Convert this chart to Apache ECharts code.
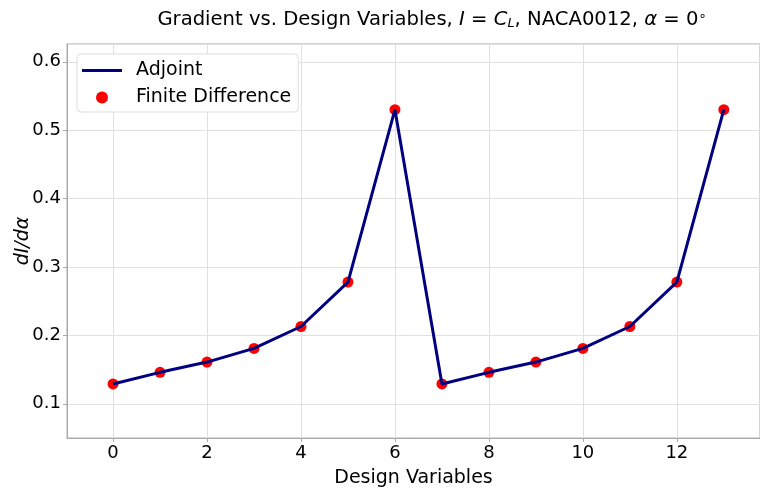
<!DOCTYPE html>
<html>
<head>
<meta charset="utf-8">
<script src="https://cdn.jsdelivr.net/npm/echarts@6/dist/echarts.min.js"></script>
<style>
  html, body { margin: 0; padding: 0; background: #fff; }
  #chart { width: 760px; height: 488px; }
</style>
</head>
<body>
<div id="chart"></div>
<script>
// design variable index and gradient values
const designVars = [0, 1, 2, 3, 4, 5, 6, 7, 8, 9, 10, 11, 12, 13]
const adjoint = [0.129, 0.146, 0.161, 0.181, 0.213, 0.278, 0.530, 0.129, 0.146, 0.161, 0.181, 0.213, 0.278, 0.530]
const finiteDiff = [0.129, 0.146, 0.161, 0.181, 0.213, 0.278, 0.530, 0.129, 0.146, 0.161, 0.181, 0.213, 0.278, 0.530]

const font = 'DejaVu Sans'
const chart = echarts.init(document.getElementById('chart'))

// flat line legend icon, tiny corner points keep the 40x12 box
const lineIcon = 'path://M0,0L0.01,0L0,0.01Z M0,4.5L40,4.5L40,7.5L0,7.5Z M40,12L39.99,12L40,11.99Z'

chart.setOption({
  animation: false,
  textStyle: { fontFamily: font, color: '#000' },
  title: {
    left: 427,
    textAlign: 'center',
    top: 5,
    text: 'Gradient vs. Design Variables, {i|I} = {i|C}{sub|L}, NACA0012, {i|α} = 0{sup|∘}',
    textStyle: {
      fontFamily: font,
      fontWeight: 'normal',
      fontSize: 19.6,
      color: '#000',
      rich: {
        i: { fontFamily: font, fontStyle: 'italic', fontSize: 19.6, color: '#000' },
        sub: { fontFamily: font, fontStyle: 'italic', fontSize: 13, color: '#000', verticalAlign: 'bottom', padding: [7, 0, 0, 0] },
        sup: { fontFamily: font, fontSize: 13, color: '#000', verticalAlign: 'top', padding: [0, 0, 7, 0] },
      },
    },
  },
  grid: {
    left: 67,
    right: 0,
    top: 44,
    bottom: 50,
    outerBoundsMode: 'none',
    containLabel: false,
    show: true,
    borderColor: '#aaa',
    borderWidth: 1,
  },
  legend: {
    orient: 'vertical',
    left: 77,
    top: 54,
    padding: [7, 7, 5, 5],
    itemGap: 8,
    itemWidth: 40,
    itemHeight: 12,
    backgroundColor: '#fff',
    borderColor: '#ddd',
    borderWidth: 1,
    borderRadius: 4,
    textStyle: { fontFamily: font, fontSize: 19, color: '#000', padding: [0, 0, 0, 9] },
    data: [
      { name: 'Adjoint', icon: lineIcon },
      { name: 'Finite Difference', icon: 'circle' },
    ],
  },
  xAxis: {
    type: 'value',
    min: -0.98,
    max: 13.77,
    minInterval: 2,
    maxInterval: 2,
    name: 'Design Variables',
    nameLocation: 'middle',
    nameGap: 31,
    nameTextStyle: { fontFamily: font, fontSize: 19, color: '#000' },
    axisLine: { show: true, onZero: false, lineStyle: { color: '#aaa' } },
    axisTick: { show: true, length: 4, lineStyle: { color: '#aaa' } },
    axisLabel: { fontFamily: font, fontSize: 18, color: '#000', margin: 6, showMinLabel: false, showMaxLabel: false },
    splitLine: { show: true, lineStyle: { color: '#e0e0e0' } },
  },
  yAxis: {
    type: 'value',
    min: 0.05,
    max: 0.626,
    minInterval: 0.1,
    maxInterval: 0.1,
    name: 'dI/dα',
    nameLocation: 'middle',
    nameRotate: 90,
    nameGap: 34,
    nameMoveOverlap: false,
    nameTextStyle: { fontFamily: font, fontSize: 19, fontStyle: 'italic', color: '#000' },
    axisLine: { show: true, onZero: false, lineStyle: { color: '#aaa' } },
    axisTick: { show: true, length: 4, lineStyle: { color: '#aaa' } },
    axisLabel: {
      fontFamily: font, fontSize: 18, color: '#000', margin: 6,
      showMinLabel: false, showMaxLabel: false,
      formatter: (v) => v.toFixed(1),
    },
    splitLine: { show: true, lineStyle: { color: '#e0e0e0' } },
  },
  series: [
    {
      name: 'Finite Difference',
      type: 'scatter',
      z: 2,
      symbolSize: 11,
      itemStyle: { color: '#ff0000', opacity: 1 },
      data: designVars.map((x, i) => [x, finiteDiff[i]]),
    },
    {
      name: 'Adjoint',
      type: 'line',
      z: 3,
      symbol: 'none',
      lineStyle: { color: '#000080', width: 3 },
      itemStyle: { color: '#000080' },
      data: designVars.map((x, i) => [x, adjoint[i]]),
    },
  ],
})
</script>
</body>
</html>
